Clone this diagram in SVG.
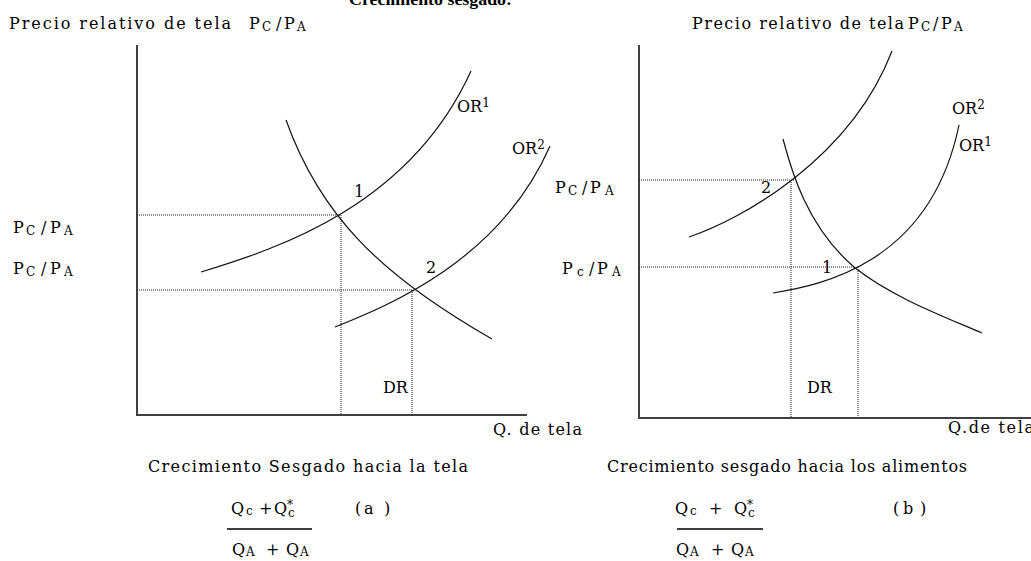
<svg xmlns="http://www.w3.org/2000/svg" width="1031" height="561" viewBox="0 0 1031 561">
<style>
text{font-family:"DejaVu Serif","Liberation Serif",serif;font-size:16px;fill:#000}
.t{font-weight:bold;font-family:"Liberation Serif",serif;font-size:17px}
.s{font-size:12px}
.axis{stroke:#404040;stroke-width:2;fill:none}
.curve{stroke:#111;stroke-width:1.2;fill:none}
.dot{stroke:#222;stroke-width:1;stroke-dasharray:1 1;fill:none}
.frac{stroke:#404040;stroke-width:2}
</style>
<rect width="1031" height="561" fill="#fff"/>
<g id="title"><text class="t" x="349" y="5" textLength="163" lengthAdjust="spacingAndGlyphs">Crecimiento sesgado:</text></g>

<g id="panel-a">
  <g id="axes-a"><path class="axis" d="M137,45 V415 H527"/></g>
  <g id="connectors-a">
    <path class="dot" d="M137,215 H341 M137,290 H413 M341,215 V415 M412,290 V415"/>
    <path id="OR1-a" class="curve" d="M201,272 C280,248 410,205 471,71"/>
    <path id="DR-a" class="curve" d="M286,120 C320,215 380,275 492,339"/>
    <path id="OR2-a" class="curve" d="M335,327 C390,305 500,260 550,146"/>
  </g>
  <g id="labels-a">
    <text x="9" y="29" textLength="222" lengthAdjust="spacing">Precio relativo de tela</text>
    <text y="29"><tspan x="249">P</tspan><tspan class="s" x="262" dy="2">C</tspan><tspan x="276" dy="-2">/</tspan><tspan x="284">P</tspan><tspan class="s" x="297" dy="2">A</tspan></text>
    <text y="233"><tspan x="13">P</tspan><tspan class="s" x="26" dy="2">C</tspan><tspan x="41" dy="-2">/</tspan><tspan x="50">P</tspan><tspan class="s" x="64" dy="2">A</tspan></text>
    <text y="274"><tspan x="13">P</tspan><tspan class="s" x="26" dy="2">C</tspan><tspan x="41" dy="-2">/</tspan><tspan x="50">P</tspan><tspan class="s" x="64" dy="2">A</tspan></text>
    <text x="457" y="112">OR<tspan class="s" dy="-5">1</tspan></text>
    <text x="512" y="154">OR<tspan class="s" dy="-5">2</tspan></text>
    <text x="354" y="197">1</text>
    <text x="426" y="273">2</text>
    <text x="383" y="393">DR</text>
    <text x="493" y="435" textLength="89" lengthAdjust="spacing">Q. de tela</text>
    <text x="148" y="472" textLength="320" lengthAdjust="spacing">Crecimiento Sesgado hacia la tela</text>
    <text y="514"><tspan x="231">Q</tspan><tspan class="s" x="246" dy="1">c</tspan><tspan x="259" dy="-1">+</tspan><tspan x="274">Q</tspan><tspan class="s" x="287" dy="-5">*</tspan></text>
    <text class="s" x="288" y="517">c</text>
    <text y="514"><tspan x="355">(</tspan><tspan x="364">a</tspan><tspan x="384">)</tspan></text>
    <line class="frac" x1="227" y1="529" x2="312" y2="529"/>
    <text y="555"><tspan x="232">Q</tspan><tspan class="s" x="246" dy="1">A</tspan><tspan x="266" dy="-1">+</tspan><tspan x="286">Q</tspan><tspan class="s" x="300" dy="1">A</tspan></text>
  </g>
</g>

<g id="panel-b">
  <g id="axes-b"><path class="axis" d="M639,45 V418 H1031"/></g>
  <g id="connectors-b">
    <path class="dot" d="M639,180 H795 M639,267 H855 M791,180 V417 M858,267 V417"/>
    <path id="OR2-b" class="curve" d="M689,237 C740,220 850,160 892,51"/>
    <path id="DR-b" class="curve" d="M783,139 C790,165 805,225 854,267 C890,296 940,315 982,333"/>
    <path id="OR1-b" class="curve" d="M773,293 C820,285 930,265 959,125"/>
  </g>
  <g id="labels-b">
    <text x="692" y="29" textLength="212" lengthAdjust="spacing">Precio relativo de tela</text>
    <text y="29"><tspan x="908">P</tspan><tspan class="s" x="921" dy="2">C</tspan><tspan x="933" dy="-2">/</tspan><tspan x="941">P</tspan><tspan class="s" x="954" dy="2">A</tspan></text>
    <text y="193"><tspan x="555">P</tspan><tspan class="s" x="568" dy="2">C</tspan><tspan x="582" dy="-2">/</tspan><tspan x="590">P</tspan><tspan class="s" x="605" dy="2">A</tspan></text>
    <text y="274"><tspan x="562">P</tspan><tspan class="s" x="577" dy="2">c</tspan><tspan x="589" dy="-2">/</tspan><tspan x="597">P</tspan><tspan class="s" x="612" dy="2">A</tspan></text>
    <text x="952" y="114">OR<tspan class="s" dy="-5">2</tspan></text>
    <text x="959" y="151">OR<tspan class="s" dy="-5">1</tspan></text>
    <text x="761" y="193">2</text>
    <text x="822" y="273">1</text>
    <text x="807" y="393">DR</text>
    <text x="948" y="433" textLength="86" lengthAdjust="spacing">Q.de tela</text>
    <text x="607" y="472" textLength="360" lengthAdjust="spacing">Crecimiento sesgado hacia los alimentos</text>
    <text y="514"><tspan x="675">Q</tspan><tspan class="s" x="690" dy="1">c</tspan><tspan x="709" dy="-1">+</tspan><tspan x="734">Q</tspan><tspan class="s" x="747" dy="-5">*</tspan></text>
    <text class="s" x="748" y="517">c</text>
    <text y="514"><tspan x="893">(</tspan><tspan x="903">b</tspan><tspan x="920">)</tspan></text>
    <line class="frac" x1="677" y1="529" x2="763" y2="529"/>
    <text y="555"><tspan x="676">Q</tspan><tspan class="s" x="690" dy="1">A</tspan><tspan x="711" dy="-1">+</tspan><tspan x="731">Q</tspan><tspan class="s" x="745" dy="1">A</tspan></text>
  </g>
</g>
</svg>
